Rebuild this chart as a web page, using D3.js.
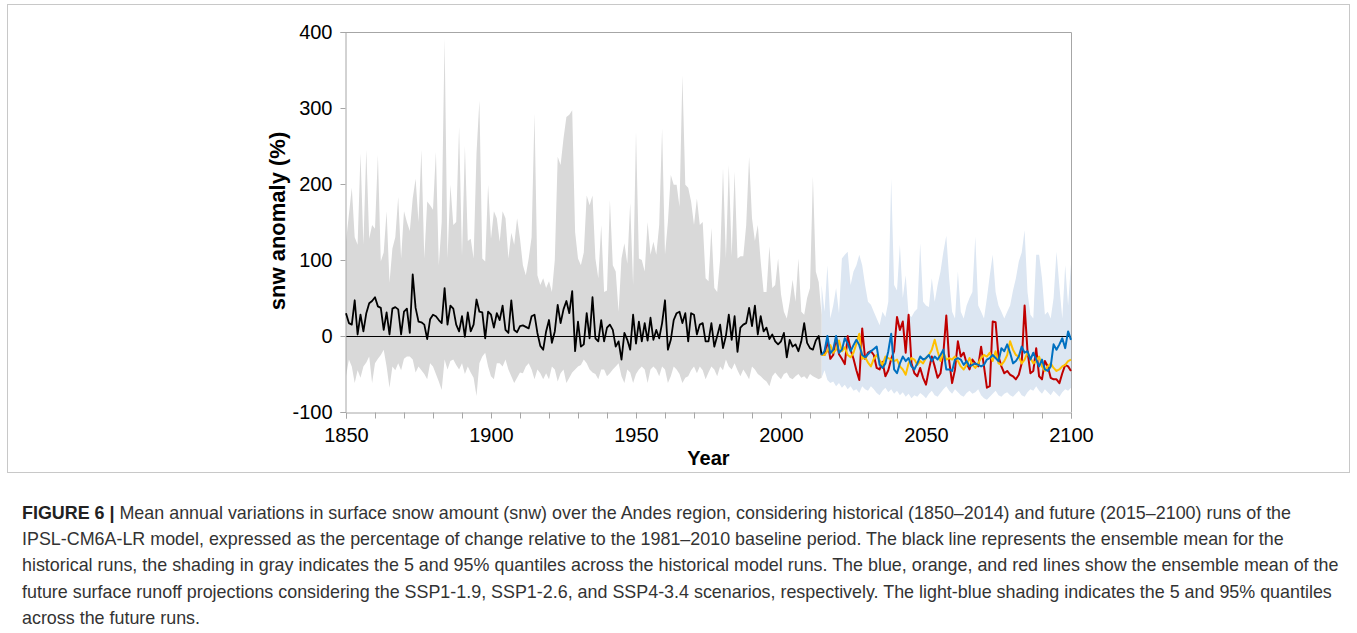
<!DOCTYPE html>
<html>
<head>
<meta charset="utf-8">
<script src="https://cdn.jsdelivr.net/npm/d3@7"></script>
<style>
  html, body { margin: 0; padding: 0; background: #fff; }
  svg { display: block; }
</style>
</head>
<body>
<svg id="chart" width="1357" height="633"></svg>
<script>
// Historical period 1850–2014: ensemble mean and 5/95 % quantiles (snw anomaly, %)
const histStart = 1850;
const histMean = [
  30, 17, 15, 47, 2, 28, 6, 30, 43, 46,
  51, 39, 37, 8, 31, 2, 36, 38, 35, 2,
  32, 36, 4, 81, 37, 19, 18, 15, -4, 22,
  28, 26, 21, 17, 63, 15, 40, 36, 15, 6,
  26, -1, 31, 6, 15, 48, 32, 31, -3, 32,
  28, 11, 30, 21, 40, 8, 4, 47, 8, 5,
  13, 14, 12, 10, 26, 28, 4, -13, -18, 6,
  21, -9, 6, 41, 17, 35, 46, 30, 59, -20,
  19, -14, -11, 30, -3, 51, -3, -7, 21, -7,
  11, 15, 8, -14, -7, -31, 4, -5, -18, 28,
  -10, 19, -7, 17, -6, 24, -5, 8, -3, 17,
  47, -18, -5, 21, 30, 32, 17, 30, -7, 30,
  28, 2, 15, 17, -7, -7, 17, -14, 0, 15,
  -16, 0, 28, -5, 26, -21, 11, 15, 17, 37,
  13, 40, 2, 26, 6, 11, -4, 2, -7, -11,
  -7, 4, -28, -5, -14, -11, -20, -7, 17, -9,
  -16, -18, -6, 0, -25
];
const histQ95 = [
  124, 160, 195, 130, 120, 240, 120, 245, 128, 146,
  141, 238, 98, 110, 164, 70, 115, 130, 183, 102,
  164, 150, 138, 181, 207, 150, 245, 102, 177, 172,
  166, 242, 93, 150, 392, 102, 199, 146, 150, 275,
  105, 250, 125, 128, 102, 240, 310, 102, 98, 199,
  128, 164, 155, 124, 164, 155, 102, 136, 120, 155,
  128, 93, 80, 102, 130, 293, 80, 67, 76, 63,
  72, 58, 100, 236, 225, 260, 288, 291, 297, 137,
  102, 93, 110, 185, 172, 185, 102, 76, 146, 58,
  60, 179, 93, 85, 32, 102, 122, 95, 175, 67,
  269, 102, 100, 85, 150, 107, 124, 107, 146, 273,
  107, 150, 212, 199, 199, 170, 343, 199, 195, 177,
  146, 181, 146, 150, 76, 72, 142, 63, 58, 100,
  221, 102, 225, 105, 216, 102, 105, 105, 146, 236,
  155, 125, 146, 98, 58, 58, 118, 63, 67, 102,
  55, 32, 23, 45, 74, 45, 102, 32, 28, 50,
  63, 210, 85, 71, 28
];
const histQ05 = [
  -53, -31, -40, -62, -45, -55, -40, -35, -27, -62,
  -36, -30, -25, -18, -40, -68, -40, -45, -36, -45,
  -30, -27, -27, -31, -48, -40, -45, -50, -57, -36,
  -40, -50, -60, -71, -31, -44, -33, -31, -38, -44,
  -36, -50, -40, -48, -55, -79, -36, -27, -22, -40,
  -53, -57, -36, -36, -40, -31, -44, -53, -62, -55,
  -48, -49, -40, -36, -44, -57, -44, -49, -57, -49,
  -57, -40, -44, -60, -49, -44, -62, -55, -48, -44,
  -40, -38, -31, -36, -44, -48, -50, -57, -44, -44,
  -53, -49, -44, -40, -36, -53, -62, -44, -48, -62,
  -50, -44, -40, -44, -62, -44, -40, -44, -53, -40,
  -44, -62, -53, -40, -44, -50, -62, -55, -53, -45,
  -40, -49, -40, -45, -57, -48, -40, -44, -53, -40,
  -45, -31, -40, -44, -36, -45, -53, -44, -50, -57,
  -40, -44, -50, -53, -57, -60, -66, -53, -48, -53,
  -57, -50, -48, -55, -57, -53, -50, -55, -53, -57,
  -50, -53, -55, -57, -55
];

// Future period (joined to the last historical year, 2014) up to 2100
const futStart = 2014;
const futQ95 = [
  67, 32, 93, 23, 40, 63, 30, 102, 107, 111,
  67, 85, 93, 107, 93, 67, 45, 41, 32, 23,
  14, 32, 25, 45, 207, 67, 60, 120, 50, 80,
  28, 25, 32, 36, 122, 45, 40, 38, 76, 45,
  67, 85, 111, 132, 75, 32, 23, 85, 32, 23,
  40, 50, 58, 131, 40, 32, 23, 50, 80, 107,
  58, 40, 32, 23, 32, 40, 60, 76, 98, 110,
  139, 58, 28, 23, 107, 107, 76, 28, 32, 23,
  50, 111, 65, 23, 93, 40, 95
];
const futQ05 = [
  -55, -45, -58, -62, -60, -66, -62, -68, -64, -70,
  -66, -72, -70, -75, -66, -70, -72, -66, -70, -75,
  -78, -72, -68, -74, -70, -76, -72, -78, -74, -80,
  -76, -82, -78, -80, -75, -78, -82, -76, -72, -78,
  -80, -75, -70, -66, -72, -76, -70, -74, -78, -80,
  -75, -72, -76, -74, -70, -78, -82, -84, -80, -76,
  -72, -78, -80, -76, -74, -78, -80, -76, -72, -78,
  -80, -74, -70, -72, -66, -72, -76, -70, -74, -78,
  -72, -76, -80, -74, -70, -72, -68
];
const ssp119 = [
  -25, -20, 0, -23, -18, 0, -22, -18, -3, -10,
  -20, -12, -5, -12, -25, -28, -24, -20, -17, -14,
  -38, -42, -36, -20, 3, -44, -49, -36, -27, -33,
  -29, -40, -44, -36, -27, -31, -29, -25, -33, -27,
  -31, -25, -18, -44, -44, -46, -31, -29, -31, -38,
  -33, -40, -38, -36, -38, -40, -38, -31, -29, -25,
  -29, -33, -16, -20, -11, -22, -36, -33, -27, -14,
  -22, -20, -31, -22, -31, -40, -31, -44, -46, -40,
  -11, -18, -11, -3, -16, 6, -5
];
const ssp126 = [
  -25, -25, -20, -12, -22, -18, -6, -20, -15, -25,
  -28, -22, -10, 3, -30, -28, -35, -40, -30, -25,
  -32, -38, -27, -29, -31, -33, -31, -40, -44, -51,
  -36, -29, -31, -38, -33, -36, -29, -25, -18, -5,
  -20, -33, -22, -31, -29, -31, -27, -33, -40, -44,
  -38, -29, -38, -42, -36, -29, -25, -27, -22, -33,
  -20, -36, -38, -33, -25, -7, -18, -25, -27, -36,
  -31, -22, -29, -36, -33, -27, -40, -46, -40, -36,
  -42, -46, -44, -40, -38, -33, -31
];
const ssp434 = [
  -25, -25, -5, -30, -25, -2, -24, -30, -37, 0,
  -18, -30, -45, -58, 10, -30, -22, -20, -25, -42,
  -44, -34, -53, -45, -30, -20, 25, 8, 19, -22,
  28, -36, -49, -53, -42, -55, -64, -44, -27, -40,
  -55, -49, -22, 27, -33, -62, -44, -7, -27, -22,
  -36, -44, -31, -36, -40, -14, -40, -68, -66, 19,
  18, -27, -40, -49, -46, -51, -53, -57, -51, -36,
  40, -20, -49, -46, -16, -53, -57, -33, -40, -55,
  -57, -57, -62, -49, -38, -40, -46
];

// Axis ticks
const yTicks = [-100, 0, 100, 200, 300, 400];
const xLabelTicks = [1850, 1900, 1950, 2000, 2050, 2100];
const xMinorTicks = d3.range(1850, 2101, 10);

const captionLines = [
  ["FIGURE 6 | ", "Mean annual variations in surface snow amount (snw) over the Andes region, considering historical (1850–2014) and future (2015–2100) runs of the"],
  ["", "IPSL-CM6A-LR model, expressed as the percentage of change relative to the 1981–2010 baseline period. The black line represents the ensemble mean for the"],
  ["", "historical runs, the shading in gray indicates the 5 and 95% quantiles across the historical model runs. The blue, orange, and red lines show the ensemble mean of the"],
  ["", "future surface runoff projections considering the SSP1-1.9, SSP1-2.6, and SSP4-3.4 scenarios, respectively. The light-blue shading indicates the 5 and 95% quantiles"],
  ["", "across the future runs."]
];

const svg = d3.select("#chart");
const font = "'Liberation Sans', Arial, sans-serif";

const plot = { left: 346, right: 1071, top: 32, bottom: 412 };
const x = d3.scaleLinear().domain([1850, 2100]).range([plot.left, plot.right]);
const y = d3.scaleLinear().domain([-100, 400]).range([plot.bottom, plot.top]);

// Figure panel frame
svg.append("rect")
  .attr("x", 7.5).attr("y", 4.5).attr("width", 1342).attr("height", 468)
  .attr("fill", "none").attr("stroke", "#c8c8c8").attr("stroke-width", 1);

const hist = histMean.map((v, i) => ({ year: histStart + i, mean: v, hi: histQ95[i], lo: histQ05[i] }));
const fut = futQ95.map((v, i) => ({
  year: futStart + i, hi: v, lo: futQ05[i], s119: ssp119[i], s126: ssp126[i], s434: ssp434[i]
}));

const band = d3.area().x(d => x(d.year)).y0(d => y(d.lo)).y1(d => y(d.hi));

svg.append("path").datum(fut).attr("d", band).attr("fill", "#dce6f2");
svg.append("path").datum(hist).attr("d", band).attr("fill", "#d9d9d9");

// Frame: top and right border
svg.append("path")
  .attr("d", `M${plot.left},${plot.top + 0.5}H${plot.right + 0.5}V${plot.bottom}`)
  .attr("fill", "none").attr("stroke", "#a6a6a6").attr("stroke-width", 1);

// Zero reference line
svg.append("line")
  .attr("x1", plot.left).attr("x2", plot.right)
  .attr("y1", Math.round(y(0)) + 0.5).attr("y2", Math.round(y(0)) + 0.5)
  .attr("stroke", "#000").attr("stroke-width", 1.2);

// Axes
const yAxis = d3.axisLeft(y).tickValues(yTicks).tickSize(5).tickPadding(8).tickFormat(d => String(d));
const xAxis = d3.axisBottom(x).tickValues(xMinorTicks).tickSize(6).tickPadding(9)
  .tickFormat(d => xLabelTicks.includes(d) ? String(d) : "");

const gy = svg.append("g").attr("transform", `translate(${plot.left - 0.5},0)`).call(yAxis);
const gx = svg.append("g").attr("transform", `translate(0,${plot.bottom + 0.5})`).call(xAxis);
[gx, gy].forEach(g => {
  g.select(".domain").attr("stroke", "#a6a6a6");
  g.selectAll(".tick line").attr("stroke", "#a6a6a6");
  g.selectAll(".tick text").attr("fill", "#000").style("font-family", font).style("font-size", "20px");
});

// Series lines
const line = key => d3.line().x(d => x(d.year)).y(d => y(d[key]));
svg.append("path").datum(hist).attr("d", line("mean"))
  .attr("fill", "none").attr("stroke", "#000").attr("stroke-width", 1.8).attr("stroke-linejoin", "round");
[["s434", "#c00000"], ["s126", "#ffc000"], ["s119", "#0070c0"]].forEach(([k, c]) => {
  svg.append("path").datum(fut).attr("d", line(k))
    .attr("fill", "none").attr("stroke", c).attr("stroke-width", 2).attr("stroke-linejoin", "round");
});

// Axis titles
svg.append("text")
  .attr("x", (plot.left + plot.right) / 2).attr("y", 465)
  .attr("text-anchor", "middle")
  .style("font-family", font).style("font-size", "20px").style("font-weight", "bold")
  .text("Year");
svg.append("text")
  .attr("transform", `translate(285,221) rotate(-90)`)
  .attr("text-anchor", "middle")
  .style("font-family", font).style("font-size", "22px").style("font-weight", "bold")
  .text("snw anomaly (%)");

// Caption
const cap = svg.append("g").style("font-family", font).style("font-size", "17.9px").attr("fill", "#333");
captionLines.forEach((ln, i) => {
  const t = cap.append("text").attr("x", 22).attr("y", 519 + i * 26.2);
  if (ln[0]) t.append("tspan").style("font-weight", "bold").attr("fill", "#222").text(ln[0]);
  t.append("tspan").text(ln[1]);
});
</script>
</body>
</html>
